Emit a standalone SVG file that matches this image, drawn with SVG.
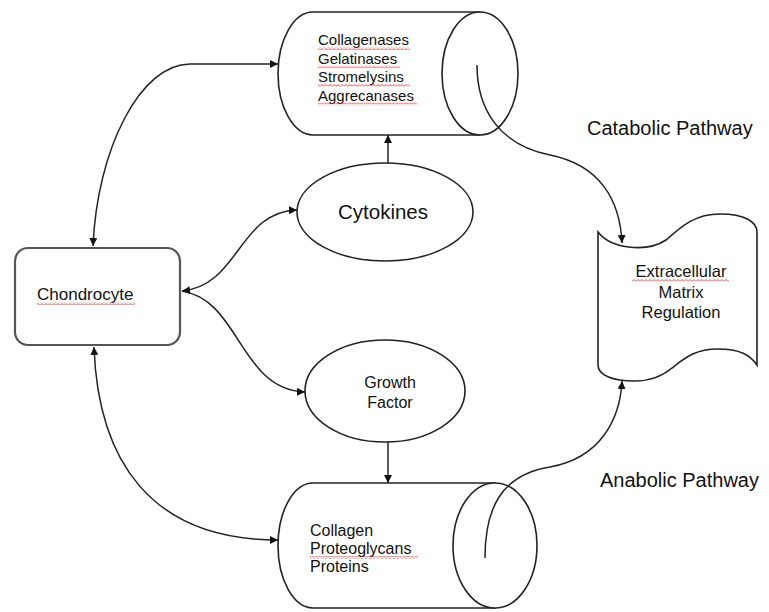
<svg xmlns="http://www.w3.org/2000/svg" width="769" height="612" viewBox="0 0 769 612">
<style>
.shape{fill:#fff;stroke:#222;stroke-width:1.6}
.box{fill:#fff;stroke:#555;stroke-width:2.2}
.ln{fill:none;stroke:#222;stroke-width:1.5}
text{font-family:"Liberation Sans",Arial,sans-serif;fill:#111}
.sq{fill:url(#wave)}
</style>
<defs>
<marker id="ah" viewBox="0 0 10 10" refX="10" refY="5" markerWidth="8" markerHeight="8" markerUnits="userSpaceOnUse" orient="auto-start-reverse">
<path d="M0,0 L10,5 L0,10 z" fill="#111"/>
</marker>
<pattern id="wave" width="4" height="3" patternUnits="userSpaceOnUse">
<path d="M0,2.5 L2,0.5 L4,2.5" fill="none" stroke="#e03030" stroke-width="0.9"/>
</pattern>
</defs>

<g id="chondrocyte">
<rect class="box" x="15" y="248" width="165" height="97" rx="13"/>
<text x="37" y="300" font-size="17">Chondrocyte</text>
<rect class="sq" x="37" y="302" width="98" height="3"/>
</g>

<g id="enzymes">
<path class="shape" d="M313,12 L480,12 L480,135 L313,135 A35,61.5 0 0 1 313,12 Z"/>
<ellipse class="shape" cx="480" cy="73.5" rx="38" ry="61.5"/>
<text x="318" y="45" font-size="15">Collagenases</text>
<text x="318" y="63.5" font-size="15">Gelatinases</text>
<text x="318" y="82" font-size="15">Stromelysins</text>
<text x="318" y="100.5" font-size="15">Aggrecanases</text>
<rect class="sq" x="318" y="47" width="92" height="3"/>
<rect class="sq" x="318" y="65.5" width="82" height="3"/>
<rect class="sq" x="318" y="84" width="92" height="3"/>
<rect class="sq" x="318" y="102.5" width="99" height="3"/>
</g>

<g id="cytokines">
<ellipse class="shape" cx="385" cy="212" rx="88" ry="49"/>
<text x="383" y="219" font-size="20.5" text-anchor="middle">Cytokines</text>
</g>

<g id="growth-factor">
<ellipse class="shape" cx="385" cy="391" rx="80" ry="51"/>
<text x="390" y="388" font-size="16" text-anchor="middle">Growth</text>
<text x="390" y="408" font-size="16" text-anchor="middle">Factor</text>
</g>

<g id="matrix-products">
<path class="shape" d="M313,483 L495,483 L495,608 L313,608 A35,62.5 0 0 1 313,483 Z"/>
<ellipse class="shape" cx="495" cy="545.5" rx="42" ry="62.5"/>
<text x="310" y="536" font-size="16">Collagen</text>
<text x="310" y="554" font-size="16">Proteoglycans</text>
<text x="310" y="572" font-size="16">Proteins</text>
<rect class="sq" x="310" y="556" width="108" height="3"/>
</g>

<g id="ecm-regulation">
<path class="shape" d="M598,232 C612,250 648,252 666,240 C682,226 695,214 720,214 C745,214 757,222 757,232 L757,365 C750,355 740,349 718,349 C695,349 685,358 672,368 C660,378 648,381 635,381 C612,381 598,375 598,365 Z"/>
<text x="681" y="277" font-size="16.5" text-anchor="middle">Extracellular</text>
<text x="681" y="298" font-size="16.5" text-anchor="middle">Matrix</text>
<text x="681" y="318" font-size="16.5" text-anchor="middle">Regulation</text>
<rect class="sq" x="632" y="279" width="97" height="3"/>
</g>

<g id="labels">
<text x="587" y="135" font-size="20">Catabolic Pathway</text>
<text x="600" y="487" font-size="20">Anabolic Pathway</text>
</g>

<g id="connectors">
<path class="ln" d="M93,246 C97,150 140,64 190,64 L278,64" marker-start="url(#ah)" marker-end="url(#ah)"/>
<path class="ln" d="M182,291 C240,285 238,212 297,210" marker-start="url(#ah)" marker-end="url(#ah)"/>
<path class="ln" d="M182,291 C240,300 240,390 305,392" marker-end="url(#ah)"/>
<path class="ln" d="M94,347 C98,460 150,540 278,540" marker-start="url(#ah)" marker-end="url(#ah)"/>
<path class="ln" d="M388,163 L388,135" marker-end="url(#ah)"/>
<path class="ln" d="M388,442 L388,483" marker-end="url(#ah)"/>
<path class="ln" d="M477,65 C477,110 500,145 550,155 C600,165 620,200 622,243" marker-end="url(#ah)"/>
<path class="ln" d="M485,558 C485,510 500,475 550,467 C600,458 620,420 622,381" marker-end="url(#ah)"/>
</g>
</svg>
